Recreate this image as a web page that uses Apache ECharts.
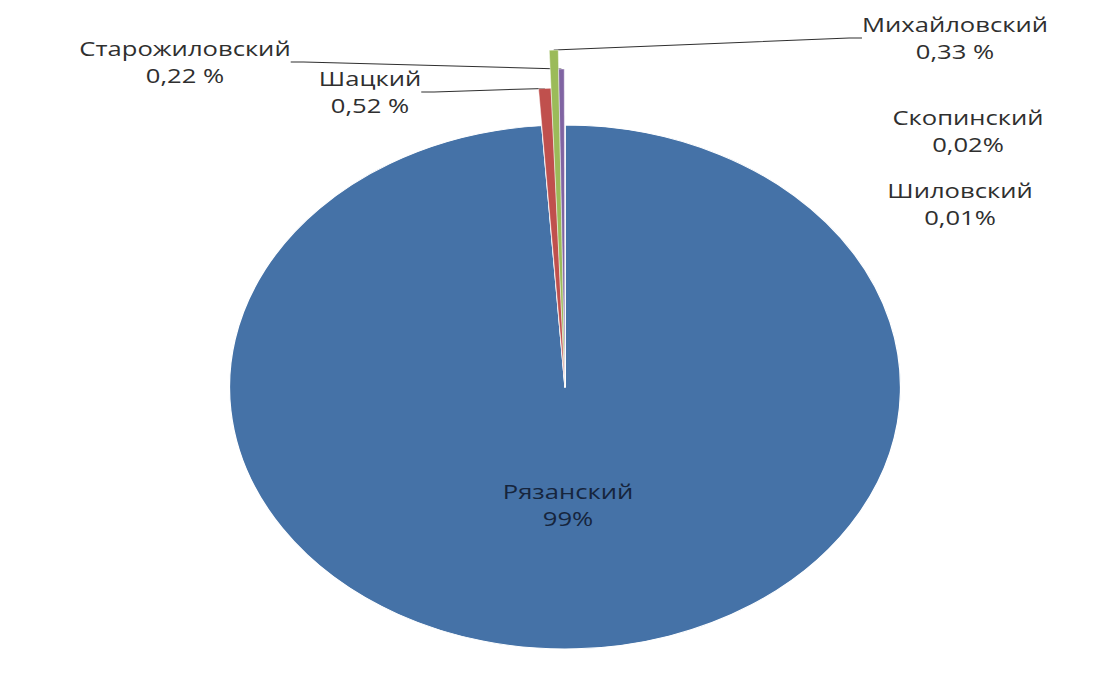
<!DOCTYPE html>
<html><head><meta charset="utf-8">
<script src="https://cdn.jsdelivr.net/npm/echarts@6/dist/echarts.min.js"></script>
<style>
html,body{margin:0;padding:0;background:#fff;overflow:hidden;width:1109px;height:677px}
#wrap{width:1109px;height:677px;overflow:hidden;position:relative;background:#fff}
#chart{position:absolute;left:0;top:0;width:866px;height:677px;transform:scaleX(1.28060);transform-origin:0 0}
</style></head><body>
<div id="wrap"><div id="chart"></div></div>
<script>
// ---- data ----
const categories = ['Рязанский', 'Шацкий', 'Михайловский', 'Старожиловский', 'Скопинский', 'Шиловский'];
const values = [98.9, 0.52, 0.33, 0.22, 0.02, 0.01];
const valueLabels = ['99%', '0,52 %', '0,33 %', '0,22 %', '0,02%', '0,01%'];

// ---- style / layout ----
const SX = 1109 / 866;               // horizontal stretch of the original picture
const colors = ['#4572a7', '#c0504d', '#9bbb59', '#8064a2', '#4bacc6', '#f79646'];
const center = [565 / SX, 387];
const mainR = 262;
const tipR = {1: 299, 2: 337, 3: 318}; // slices drawn protruding beyond the pie
const labelPos = {0: [568, 505], 1: [370, 92], 2: [955, 38], 3: [185, 62], 4: [968, 131], 5: [960, 204]};

const FONT = 'Open Sans';
function fmt(p) { return p.name + '\n' + valueLabels[p.dataIndex]; }
function layout(p) {
  const pos = labelPos[p.dataIndex];
  return {x: pos[0] / SX, y: pos[1], align: 'center', verticalAlign: 'middle'};
}
const baseLabel = {formatter: fmt, fontFamily: FONT, fontSize: 20, lineHeight: 27, color: '#2f2f2f', position: 'outside'};

const series = [{
  type: 'pie', center: center, radius: [0, mainR], startAngle: 90, clockwise: true,
  avoidLabelOverlap: false, silent: true, animation: false,
  itemStyle: {borderColor: '#ffffff', borderWidth: 1},
  label: baseLabel,
  labelLine: {show: false},
  labelLayout: layout,
  data: categories.map((c, i) => ({
    name: c, value: values[i],
    itemStyle: {color: colors[i]},
    label: i === 0 ? {show: true, color: '#16253d'} : {show: !(i in tipR)},
    labelLine: {show: false}
  }))
}];

Object.keys(tipR).forEach(k => {
  k = +k;
  series.push({
    type: 'pie', center: center, radius: [0, tipR[k]], startAngle: 90, clockwise: true,
    avoidLabelOverlap: false, silent: true, animation: false,
    label: baseLabel,
    labelLine: {show: true, length: 10, length2: 10, lineStyle: {color: '#2f2f2f', width: 1}},
    labelLayout: layout,
    data: categories.map((c, i) => i === k ? {
      name: c, value: values[i],
      itemStyle: {color: colors[i], borderColor: '#ffffff', borderWidth: 0.4},
      label: {show: true}, labelLine: {show: true}
    } : {
      name: c, value: values[i],
      itemStyle: {color: 'rgba(0,0,0,0)', borderWidth: 0},
      label: {show: false}, labelLine: {show: false}
    })
  });
});

const chart = echarts.init(document.getElementById('chart'), null, {renderer: 'svg'});
chart.setOption({backgroundColor: '#ffffff', animation: false, series: series});
</script>
</body></html>
